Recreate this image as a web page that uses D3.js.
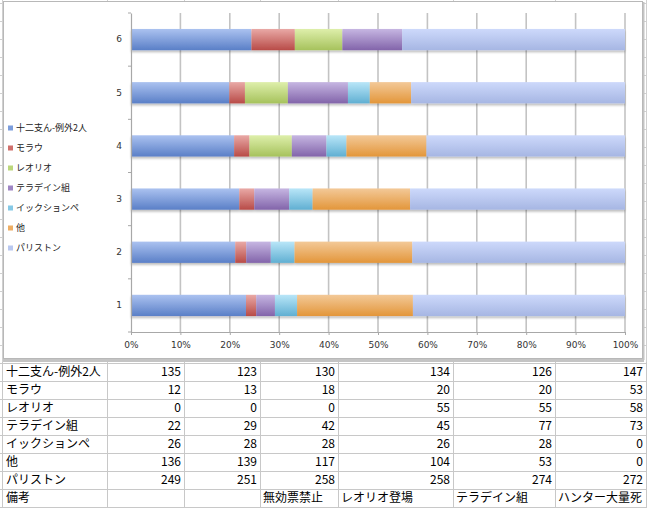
<!DOCTYPE html>
<html>
<head>
<meta charset="utf-8">
<script src="https://cdnjs.cloudflare.com/ajax/libs/d3/7.8.5/d3.min.js"></script>
<style>
  body { margin: 0; background: #fff; }
  svg { display: block; font-family: "Noto Sans CJK JP", "Noto Sans", sans-serif; }
</style>
</head>
<body>
<div id="chart"></div>
<script>
// rounds 1..6, bottom to top in the chart
var rounds = ["1", "2", "3", "4", "5", "6"];
var seriesNames = ["十二支ん-例外2人", "モラウ", "レオリオ", "テラデイン組", "イックションペ", "他", "パリストン"];

var juunishi   = [135, 123, 130, 134, 126, 147];
var morau      = [12, 13, 18, 20, 20, 53];
var leorio     = [0, 0, 0, 55, 55, 58];
var teradein   = [22, 29, 42, 45, 77, 73];
var ikkushonpe = [26, 28, 28, 26, 28, 0];
var others     = [136, 139, 117, 104, 53, 0];
var pariston   = [249, 251, 258, 258, 274, 272];
var notesLabel = "備考";
var notes      = ["", "", "無効票禁止", "レオリオ登場", "テラデイン組", "ハンター大量死"];

var seriesValues = [juunishi, morau, leorio, teradein, ikkushonpe, others, pariston];

// top / bottom gradient stops, like the old office bars
var colorTop    = ["#abc2f0", "#e9a9a6", "#deefab", "#c6b6e2", "#b9e6f8", "#f3c998", "#cdd9fb"];
var colorBottom = ["#5a7fc7", "#b84b47", "#a6c25c", "#8264aa", "#60afd2", "#e3963a", "#a6b6e3"];
var colorMid    = ["#7c9ddc", "#d0706c", "#bcd77c", "#9f86c4", "#86c9e6", "#eeae64", "#b9c8f0"];

var W = 647, H = 508;

var svg = d3.select("#chart").append("svg")
    .attr("width", W)
    .attr("height", H);

var defs = svg.append("defs");
seriesNames.forEach(function(name, i) {
    var g = defs.append("linearGradient")
        .attr("id", "grad" + i)
        .attr("x1", 0).attr("y1", 0).attr("x2", 0).attr("y2", 1);
    g.append("stop").attr("offset", "0%").attr("stop-color", colorTop[i]);
    g.append("stop").attr("offset", "100%").attr("stop-color", colorBottom[i]);
});
var shadow = defs.append("filter").attr("id", "shadow")
    .attr("x", "-5%").attr("y", "-20%").attr("width", "110%").attr("height", "160%");
shadow.append("feDropShadow")
    .attr("dx", 0).attr("dy", 2).attr("stdDeviation", 1.2)
    .attr("flood-color", "#000").attr("flood-opacity", 0.25);

// ---- spreadsheet grid behind everything ----
var colEdges = [2, 107, 184, 260, 338, 453, 555, 646];
var rowTop = 362.5, rowH = 18;
var sheet = svg.append("g").attr("stroke", "#d0d0d0").attr("stroke-width", 1);
for (var r = -20; r <= 8; r++) {
    var yy = Math.round(rowTop + r * rowH) + 0.5;
    sheet.append("line").attr("x1", 0).attr("x2", W).attr("y1", yy).attr("y2", yy);
}
colEdges.forEach(function(cx) {
    sheet.append("line").attr("x1", cx + 0.5).attr("x2", cx + 0.5).attr("y1", 0).attr("y2", H);
});

// ---- chart object ----
svg.append("rect")
    .attr("x", 3.5).attr("y", 1.5)
    .attr("width", 639).attr("height", 357)
    .attr("fill", "#fff")
    .attr("stroke", "#b8b8b8");
svg.append("rect")
    .attr("x", 3).attr("y", 359)
    .attr("width", 641).attr("height", 3)
    .attr("fill", "#c4c4c4");
svg.append("rect")
    .attr("x", 643).attr("y", 2)
    .attr("width", 1.5).attr("height", 358)
    .attr("fill", "#c4c4c4");

var plot = { left: 131, right: 625, top: 13, bottom: 332 };

var x = d3.scaleLinear().domain([0, 1]).range([plot.left, plot.right]);
var y = d3.scaleBand()
    .domain(rounds.slice().reverse())
    .range([plot.top, plot.bottom])
    .paddingInner(0.6)
    .paddingOuter(0.3);

// gridlines
svg.append("g")
    .selectAll("line")
    .data(x.ticks(10).slice(1))
    .join("line")
    .attr("x1", function(d) { return x(d); })
    .attr("x2", function(d) { return x(d); })
    .attr("y1", plot.top)
    .attr("y2", plot.bottom)
    .attr("stroke", "#c3c3c3")
    .attr("stroke-width", 1.6);

// stacked bars, normalised to 100%
var table = rounds.map(function(rd, j) {
    var row = { round: rd };
    seriesNames.forEach(function(name, i) { row[name] = seriesValues[i][j]; });
    return row;
});
var stacked = d3.stack().keys(seriesNames).offset(d3.stackOffsetExpand)(table);

var bars = svg.append("g").attr("filter", "url(#shadow)");
bars.selectAll("g")
    .data(stacked)
    .join("g")
    .attr("fill", function(d, i) { return "url(#grad" + i + ")"; })
    .selectAll("rect")
    .data(function(d) { return d; })
    .join("rect")
    .attr("x", function(d) { return x(d[0]); })
    .attr("width", function(d) { return x(d[1]) - x(d[0]); })
    .attr("y", function(d) { return y(d.data.round); })
    .attr("height", y.bandwidth());

// axes
var xAxis = svg.append("g")
    .attr("transform", "translate(0," + plot.bottom + ")")
    .call(d3.axisBottom(x).ticks(10, "%").tickSizeInner(3).tickSizeOuter(0).tickPadding(7));
var yAxis = svg.append("g")
    .attr("transform", "translate(" + plot.left + ",0)")
    .call(d3.axisLeft(y).tickSize(0).tickPadding(9));

[xAxis, yAxis].forEach(function(a) {
    a.select(".domain").attr("stroke", "#a8a8a8").attr("stroke-width", 1.2);
    a.selectAll(".tick line").attr("stroke", "#a8a8a8");
    a.selectAll("text")
        .attr("fill", "#333")
        .style("font-size", "9px")
        .style("font-family", "'DejaVu Sans', sans-serif");
});

// category boundary ticks on the y axis
var step = y.step();
svg.append("g")
    .selectAll("line")
    .data(d3.range(rounds.length + 1))
    .join("line")
    .attr("x1", plot.left - 3)
    .attr("x2", plot.left)
    .attr("y1", function(k) { return plot.top + k * step; })
    .attr("y2", function(k) { return plot.top + k * step; })
    .attr("stroke", "#a8a8a8");

// legend
var legend = svg.append("g")
    .selectAll("g")
    .data(seriesNames)
    .join("g")
    .attr("transform", function(d, i) { return "translate(8," + (128 + i * 20) + ")"; });
legend.append("rect")
    .attr("x", 0).attr("y", -2.5)
    .attr("width", 5).attr("height", 5)
    .attr("fill", function(d, i) { return colorMid[i]; });
legend.append("text")
    .attr("x", 8)
    .attr("dy", "0.35em")
    .attr("fill", "#222")
    .style("font-size", "9px")
    .text(function(d) { return d; });

// ---- data table below ----
var tableRows = seriesNames.map(function(name, i) {
    return { label: name, cells: seriesValues[i].map(String), numeric: true };
});
tableRows.push({ label: notesLabel, cells: notes, numeric: false });

svg.append("rect")
    .attr("x", 2).attr("y", 362)
    .attr("width", 645).attr("height", rowH * tableRows.length + 1)
    .attr("fill", "#fff");

var grid = svg.append("g").attr("stroke", "#c8c8c8").attr("stroke-width", 1);
d3.range(tableRows.length + 1).forEach(function(k) {
    var yy = Math.round(rowTop + k * rowH) + 0.5;
    grid.append("line").attr("x1", 0).attr("x2", W).attr("y1", yy).attr("y2", yy);
});
colEdges.forEach(function(cx) {
    grid.append("line")
        .attr("x1", cx + 0.5).attr("x2", cx + 0.5)
        .attr("y1", 362).attr("y2", H);
});

var rowsG = svg.append("g")
    .selectAll("g")
    .data(tableRows)
    .join("g")
    .attr("transform", function(d, k) { return "translate(0," + (rowTop + k * rowH + rowH / 2) + ")"; });

rowsG.append("text")
    .attr("x", colEdges[0] + 4)
    .attr("dy", "0.36em")
    .attr("fill", "#000")
    .style("font-size", "12px")
    .text(function(d) { return d.label; });

rowsG.each(function(row) {
    d3.select(this).selectAll("text.cell")
        .data(row.cells)
        .join("text")
        .attr("class", "cell")
        .attr("x", function(d, j) { return row.numeric ? colEdges[j + 2] - 3 : colEdges[j + 1] + 3; })
        .attr("text-anchor", row.numeric ? "end" : "start")
        .attr("dy", "0.36em")
        .attr("fill", "#000")
        .style("font-size", "12px")
        .text(function(d) { return d; });
});
</script>
</body>
</html>
